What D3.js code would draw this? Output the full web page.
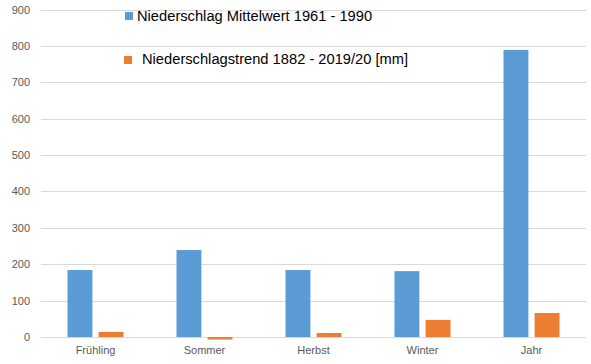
<!DOCTYPE html>
<html>
<head>
<meta charset="utf-8">
<script src="https://cdn.jsdelivr.net/npm/d3@7"></script>
<style>
  body { margin: 0; background: #fff; }
  text { font-family: "Liberation Sans", Arial, sans-serif; }
</style>
</head>
<body>
<div id="viz"></div>
<script>
var categories = ["Frühling", "Sommer", "Herbst", "Winter", "Jahr"],
    seriesNames = ["Niederschlag Mittelwert 1961 - 1990", "Niederschlagstrend 1882 - 2019/20 [mm]"],
    mittelwert = [184, 239, 184, 181, 789],
    trend = [14, -7, 11, 47, 66],
    yTicks = [0, 100, 200, 300, 400, 500, 600, 700, 800, 900],
    colors = ["#5b9bd5", "#ed7d31"];

var width = 591, height = 364;

var svg = d3.select("#viz").append("svg")
    .attr("width", width)
    .attr("height", height);

var x0 = d3.scaleBand()
    .domain(categories)
    .range([41, 586]);

var x1 = d3.scaleBand()
    .domain([0, 1])
    .range([-28, 28])
    .paddingInner(0.2);

var y = d3.scaleLinear()
    .domain([0, 900])
    .range([337, 9.5]);

// gridlines
svg.append("g").selectAll("line")
    .data(yTicks)
    .enter().append("line")
        .attr("x1", 41)
        .attr("x2", 586)
        .attr("y1", function(d){ return Math.round(y(d)) + 0.5; })
        .attr("y2", function(d){ return Math.round(y(d)) + 0.5; })
        .attr("stroke", "#d9d9d9")
        .attr("stroke-width", 1);

// y axis labels
var yAxis = d3.axisLeft(y).tickValues(yTicks).tickSize(0).tickPadding(0);
var yg = svg.append("g")
    .attr("transform", "translate(30,0)")
    .call(yAxis);
yg.select(".domain").remove();
yg.selectAll("text")
    .attr("fill", "#595959")
    .style("font-size", "11px")
    .style("font-family", "'Liberation Sans', Arial, sans-serif");

// x axis labels
var xAxis = d3.axisBottom(x0).tickSize(0).tickPadding(0);
var xg = svg.append("g")
    .attr("transform", "translate(0,346)")
    .call(xAxis);
xg.select(".domain").remove();
xg.selectAll("text")
    .attr("fill", "#595959")
    .style("font-size", "11px")
    .style("font-family", "'Liberation Sans', Arial, sans-serif");

var rows = categories.map(function(c, i){
    return { cat: c, values: [mittelwert[i], trend[i]] };
});

var groups = svg.append("g").selectAll("g")
    .data(rows)
    .enter().append("g")
        .attr("transform", function(d){ return "translate(" + (x0(d.cat) + x0.bandwidth() / 2) + ",0)"; });

groups.selectAll("rect")
    .data(function(d){ return d.values.map(function(v, k){ return { k: k, v: v }; }); })
    .enter().append("rect")
        .attr("x", function(d){ return x1(d.k); })
        .attr("width", x1.bandwidth())
        .attr("y", function(d){ return Math.min(y(d.v), y(0)); })
        .attr("height", function(d){ return Math.abs(y(d.v) - y(0)); })
        .attr("fill", function(d){ return colors[d.k]; });

// legend
var legendPos = [
    { sx: 125, sy: 12, tx: 137, ty: 21 },
    { sx: 124, sy: 56, tx: 142, ty: 64 }
];

var legend = svg.append("g").selectAll("g")
    .data(seriesNames)
    .enter().append("g");

legend.append("rect")
    .attr("x", function(d, i){ return legendPos[i].sx; })
    .attr("y", function(d, i){ return legendPos[i].sy; })
    .attr("width", 8)
    .attr("height", 8)
    .attr("fill", function(d, i){ return colors[i]; });

legend.append("text")
    .attr("x", function(d, i){ return legendPos[i].tx; })
    .attr("y", function(d, i){ return legendPos[i].ty; })
    .attr("fill", "#000")
    .style("font-size", "14.7px")
    .text(function(d){ return d; });
</script>
</body>
</html>
